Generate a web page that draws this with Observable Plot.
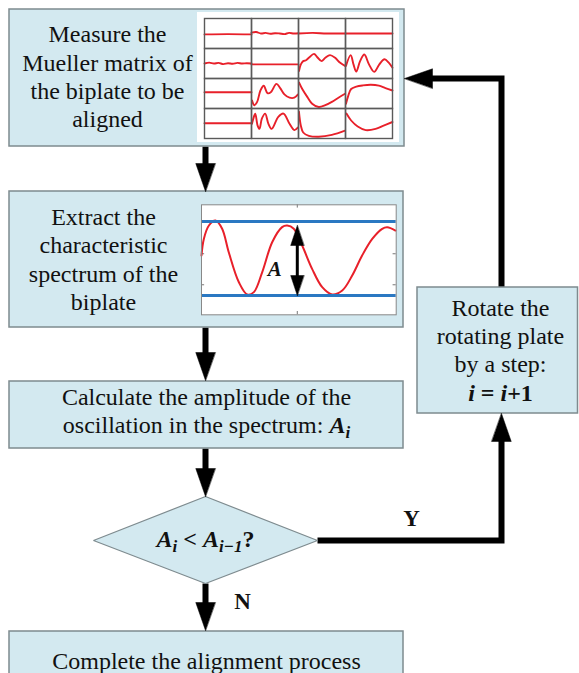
<!DOCTYPE html>
<html><head><meta charset="utf-8">
<script src="https://cdn.jsdelivr.net/npm/d3@7"></script>
<script src="https://cdn.jsdelivr.net/npm/@observablehq/plot@0.6"></script>
<style>
html,body{margin:0;padding:0;background:#fff;}
#chart{position:relative;width:579px;height:673px;overflow:hidden;}
#chart svg{position:absolute;display:block;}
</style></head><body><div id="chart"></div>
<script>
// ---------------- data ----------------
const measureLines  = ["Measure the", "Mueller matrix of", "the biplate to be", "aligned"];
const extractLines  = ["Extract the", "characteristic", "spectrum of the", "biplate"];
const calcLines     = ["Calculate the amplitude of the", "oscillation in the spectrum: Ai"];
const rotateLines   = ["Rotate the", "rotating plate", "by a step:", "i = i+1"];
const decisionLine  = "Ai < Ai\u22121?";
const completeLines = ["Complete the alignment process"];
const branchLabels  = ["Y", "N"];

// rich-text segments: flags b=bold, i=italic, s=subscript
const richSegments = {
  "oscillation in the spectrum: Ai": [["oscillation in the spectrum: ", ""], ["A", "bi"], ["i", "bis"]],
  "Ai < Ai\u22121?": [["A", "bi"], ["i", "bis"], [" < ", "b"], ["A", "bi"], ["i\u22121", "bis"], ["?", "b"]],
  "i = i+1": [["i", "bi"], [" = ", "b"], ["i", "bi"], ["+1", "b"]]
};

// characteristic spectrum (x: 0-100 across the panel, y: 0-100 bottom to top)
const specX = [0, 1.2, 3.8, 7.2, 10.6, 14.0, 19.2, 23.5, 26.9, 31.2, 36.3, 41.4, 44.0, 47.4, 51.7, 56.8, 62.0, 67.1, 72.3, 77.4, 82.5, 87.7, 92.8, 95.4, 99.6];
const specY = [53.9, 69, 81.2, 85.7, 78.2, 56.9, 29.6, 18.5, 20.6, 38.8, 66, 79.7, 81.2, 78.2, 63, 41.8, 25.1, 18.5, 22.1, 35.7, 53.9, 69, 78.2, 79.6, 76.6];
const ampLevels = [84.8, 17.5];     // blue envelope lines
const ampArrow = {x: 49.2, top: 81.2, bottom: 17.5, label: "A", labelX: 37.6, labelY: 41};
const specTicksX = [49.2];
const specTicksY = [27.3, 55.5];

// Mueller matrix panels: row, col, x (0-1 in cell), y (0 top - 1 bottom in cell)
const muellerCurves = [
  {row: 0, col: 0, x: [0, 0.5, 1], y: [0.53, 0.52, 0.53]},
  {row: 0, col: 1, x: [0, .1, .2, .3, .4, .5, .6, .7, .8, .9, 1], y: [0.47, 0.45, 0.5, 0.48, 0.51, 0.49, 0.5, 0.52, 0.48, 0.5, 0.49]},
  {row: 0, col: 2, x: [0, 0.3, 0.6, 1], y: [0.5, 0.48, 0.5, 0.5]},
  {row: 0, col: 3, x: [0, 1], y: [0.5, 0.5]},
  {row: 1, col: 0, x: [0, .1, .2, .3, .4, .5, .6, .7, .8, .9, 1], y: [0.5, 0.47, 0.5, 0.48, 0.52, 0.49, 0.51, 0.48, 0.5, 0.49, 0.5]},
  {row: 1, col: 1, x: [0, 1], y: [0.53, 0.53]},
  {row: 1, col: 2, x: [0.01, 0.05, 0.10, 0.15, 0.22, 0.33, 0.40, 0.49, 0.57, 0.67, 0.78, 0.88, 0.99], y: [0.75, 0.53, 0.42, 0.40, 0.31, 0.18, 0.29, 0.42, 0.31, 0.22, 0.31, 0.47, 0.58]},
  {row: 1, col: 3, x: [0.01, 0.11, 0.17, 0.23, 0.31, 0.40, 0.50, 0.61, 0.72, 0.83, 0.92, 1.0], y: [0.58, 0.22, 0.53, 0.77, 0.42, 0.20, 0.53, 0.78, 0.53, 0.36, 0.47, 0.64]},
  {row: 2, col: 0, x: [0, 1], y: [0.46, 0.46]},
  {row: 2, col: 1, x: [0.01, 0.06, 0.12, 0.19, 0.26, 0.34, 0.41, 0.53, 0.61, 0.70, 0.81, 0.91, 0.99], y: [0.73, 0.89, 0.78, 0.40, 0.24, 0.49, 0.46, 0.18, 0.32, 0.53, 0.64, 0.64, 0.53]},
  {row: 2, col: 2, x: [0.01, 0.08, 0.19, 0.29, 0.43, 0.57, 0.71, 0.85, 0.99], y: [0.13, 0.35, 0.62, 0.84, 0.95, 0.89, 0.78, 0.64, 0.51]},
  {row: 2, col: 3, x: [0.01, 0.06, 0.12, 0.23, 0.37, 0.54, 0.71, 0.85, 1.0], y: [0.84, 0.57, 0.35, 0.27, 0.23, 0.21, 0.24, 0.32, 0.40]},
  {row: 3, col: 0, x: [0, 1], y: [0.49, 0.49]},
  {row: 3, col: 1, x: [0.01, 0.05, 0.08, 0.13, 0.17, 0.22, 0.29, 0.36, 0.43, 0.57, 0.68, 0.81, 0.91, 0.99], y: [0.51, 0.28, 0.17, 0.57, 0.68, 0.34, 0.17, 0.51, 0.68, 0.28, 0.17, 0.51, 0.72, 0.63]},
  {row: 3, col: 2, x: [0.01, 0.05, 0.10, 0.22, 0.43, 0.71, 0.99], y: [0.11, 0.57, 0.80, 0.91, 0.94, 0.88, 0.74]},
  {row: 3, col: 3, x: [0.02, 0.12, 0.26, 0.43, 0.64, 0.81, 1.0], y: [0.17, 0.40, 0.60, 0.72, 0.68, 0.57, 0.45]}
];

// ---------------- layout (pixel space of the flowchart) ----------------
const W = 579, H = 673;
const FILL = "#d3e9f0", EDGE = "#7e8b8f", INK = "#111";
const boxes = [
  {x1: 9, x2: 404, y1: 9, y2: 146},
  {x1: 9, x2: 403, y1: 191, y2: 327},
  {x1: 9, x2: 403, y1: 381, y2: 448},
  {x1: 417, x2: 577.5, y1: 287, y2: 413},
  {x1: 9, x2: 403, y1: 631, y2: 700}
];
const diamond = [[205, 496], [317, 540], [205, 583], [93, 540]];
const connectors = [
  [[205, 146], [205, 165]],
  [[205, 327], [205, 354]],
  [[205, 448], [205, 470]],
  [[205, 583], [205, 604]],
  [[317, 540], [501, 540], [501, 440]],
  [[501, 287], [501, 78], [430, 78]]
];
const heads = [
  {x: 205, y: 191, dx: 0, dy: 1},
  {x: 205, y: 380, dx: 0, dy: 1},
  {x: 205, y: 496, dx: 0, dy: 1},
  {x: 205, y: 630, dx: 0, dy: 1},
  {x: 501, y: 413, dx: 0, dy: -1},
  {x: 404, y: 78, dx: -1, dy: 0}
];
const HEAD_L = 28, HEAD_W = 19.5;

const labels = [
  ...measureLines.map((t, i) => ({t, x: 107, y: 41.7 + 28.3 * i})),
  ...extractLines.map((t, i) => ({t, x: 103, y: 224 + 28.5 * i})),
  ...calcLines.map((t, i) => ({t, x: 206, y: 404.5 + 28 * i})),
  ...rotateLines.map((t, i) => ({t, x: 500, y: 315 + 28.4 * i})),
  ...completeLines.map((t) => ({t, x: 206, y: 668})),
  {t: decisionLine, x: 205, y: 546}
];
const branchPos = [{t: branchLabels[0], x: 411, y: 525}, {t: branchLabels[1], x: 242, y: 608}];

// build polygons / paths
const connectorPts = connectors.flatMap((p, id) => p.map(([x, y]) => ({id, x, y})));
const headPts = heads.flatMap((h, id) => {
  const bx = h.x - h.dx * HEAD_L, by = h.y - h.dy * HEAD_L;
  const px = -h.dy * HEAD_W / 2, py = h.dx * HEAD_W / 2;
  return [{id, x: h.x, y: h.y}, {id, x: bx + px, y: by + py}, {id, x: bx - px, y: by - py}];
});
const diamondPts = diamond.map(([x, y]) => ({x, y}));

const main = Plot.plot({
  width: W, height: H, margin: 0,
  x: {domain: [0, W], range: [0, W], axis: null},
  y: {domain: [0, H], range: [0, H], axis: null},
  style: {background: "white", fontFamily: "'Liberation Serif', 'Times New Roman', serif", color: INK},
  marks: [
    Plot.line(connectorPts, {x: "x", y: "y", z: "id", stroke: "black", strokeWidth: 6, strokeLinejoin: "miter", strokeLinecap: "butt", strokeMiterlimit: 4}),
    Plot.rect(boxes, {x1: "x1", x2: "x2", y1: "y1", y2: "y2", fill: FILL, stroke: EDGE, strokeWidth: 1.5}),
    Plot.line(diamondPts, {x: "x", y: "y", curve: "linear-closed", fill: FILL, stroke: EDGE, strokeWidth: 1.2, strokeLinejoin: "miter"}),
    Plot.line(headPts, {x: "x", y: "y", z: "id", curve: "linear-closed", fill: "black", stroke: "black", strokeWidth: 0.5}),
    Plot.text(labels, {x: "x", y: "y", text: "t", fontSize: 24, lineAnchor: "bottom", textAnchor: "middle", fill: INK}),
    Plot.text(branchPos, {x: "x", y: "y", text: "t", fontSize: 23, fontWeight: "bold", lineAnchor: "bottom", textAnchor: "middle", fill: INK})
  ]
});

function applyRich(svg) {
  d3.select(svg).selectAll("text").each(function () {
    const segs = richSegments[this.textContent];
    if (!segs) return;
    const sel = d3.select(this);
    sel.text(null);
    let shifted = 0;
    for (const [t, f] of segs) {
      const ts = sel.append("tspan").text(t);
      if (f.includes("b")) ts.attr("font-weight", "bold");
      if (f.includes("i")) ts.attr("font-style", "italic");
      const sub = f.includes("s");
      const target = sub ? 5 : 0;
      if (target !== shifted) { ts.attr("dy", target - shifted); shifted = target; }
      if (sub) ts.attr("font-size", 17);
    }
  });
}
applyRich(main);

// ---------------- Mueller matrix inset (4x4 facets) ----------------
const muellerPts = muellerCurves.flatMap((c, id) => c.x.map((x, k) => ({id, row: c.row, col: c.col, x, y: c.y[k]})));
const mueller = Plot.plot({
  width: 202, height: 130,
  marginLeft: 5.3, marginRight: 5, marginTop: 5.3, marginBottom: 4.3,
  x: {domain: [0, 1], axis: null},
  y: {domain: [1, 0], axis: null},
  fx: {domain: [0, 1, 2, 3], padding: 0, axis: null},
  fy: {domain: [0, 1, 2, 3], padding: 0, axis: null},
  style: {background: "white"},
  marks: [
    Plot.line(muellerPts, {x: "x", y: "y", z: "id", fx: "col", fy: "row", stroke: "#e8202a", strokeWidth: 1.9, curve: "catmull-rom"}),
    Plot.frame({stroke: "#5a5a5a", strokeWidth: 1.4})
  ]
});

// ---------------- characteristic spectrum inset ----------------
const specPts = specX.map((x, i) => ({x, y: specY[i]}));
const aw = 3.4, al = 18.2;
const ampHeads = [
  {id: 0, x: ampArrow.x, y: ampArrow.top}, {id: 0, x: ampArrow.x - aw, y: ampArrow.top - al}, {id: 0, x: ampArrow.x + aw, y: ampArrow.top - al},
  {id: 1, x: ampArrow.x, y: ampArrow.bottom}, {id: 1, x: ampArrow.x - aw, y: ampArrow.bottom + al}, {id: 1, x: ampArrow.x + aw, y: ampArrow.bottom + al}
];
const spectrum = Plot.plot({
  width: 199, height: 115,
  marginLeft: 2, marginRight: 2.3, marginTop: 2.3, marginBottom: 2.7,
  x: {domain: [0, 100], axis: null},
  y: {domain: [0, 100], axis: null},
  style: {background: "transparent", fontFamily: "'Liberation Serif', 'Times New Roman', serif"},
  marks: [
    Plot.frame({fill: "white", stroke: "none"}),
    Plot.ruleX(specTicksX, {y1: 0, y2: 3, stroke: "#777", strokeWidth: 1}),
    Plot.ruleX(specTicksX, {y1: 97, y2: 100, stroke: "#777", strokeWidth: 1}),
    Plot.ruleY(specTicksY, {x1: 0, x2: 1.6, stroke: "#777", strokeWidth: 1}),
    Plot.ruleY(specTicksY, {x1: 98.4, x2: 100, stroke: "#777", strokeWidth: 1}),
    Plot.line(specPts, {x: "x", y: "y", stroke: "#e8202a", strokeWidth: 2, curve: "catmull-rom"}),
    Plot.ruleY(ampLevels, {x1: 0, x2: 100, stroke: "#2a78c2", strokeWidth: 3}),
    Plot.ruleX([ampArrow.x], {y1: ampArrow.top - al + 1, y2: ampArrow.bottom + al - 1, stroke: "black", strokeWidth: 3}),
    Plot.line(ampHeads, {x: "x", y: "y", z: "id", curve: "linear-closed", fill: "black", stroke: "black", strokeWidth: 0.5}),
    Plot.text([ampArrow], {x: "labelX", y: "labelY", text: "label", fontSize: 21, fontWeight: "bold", fontStyle: "italic", fill: INK}),
    Plot.frame({stroke: "#888", strokeWidth: 1})
  ]
});

const chart = document.getElementById("chart");
main.style.left = "0px"; main.style.top = "0px";
mueller.style.left = "197px"; mueller.style.top = "12px";
spectrum.style.left = "199px"; spectrum.style.top = "202px";
chart.append(main, mueller, spectrum);
</script></body></html>
